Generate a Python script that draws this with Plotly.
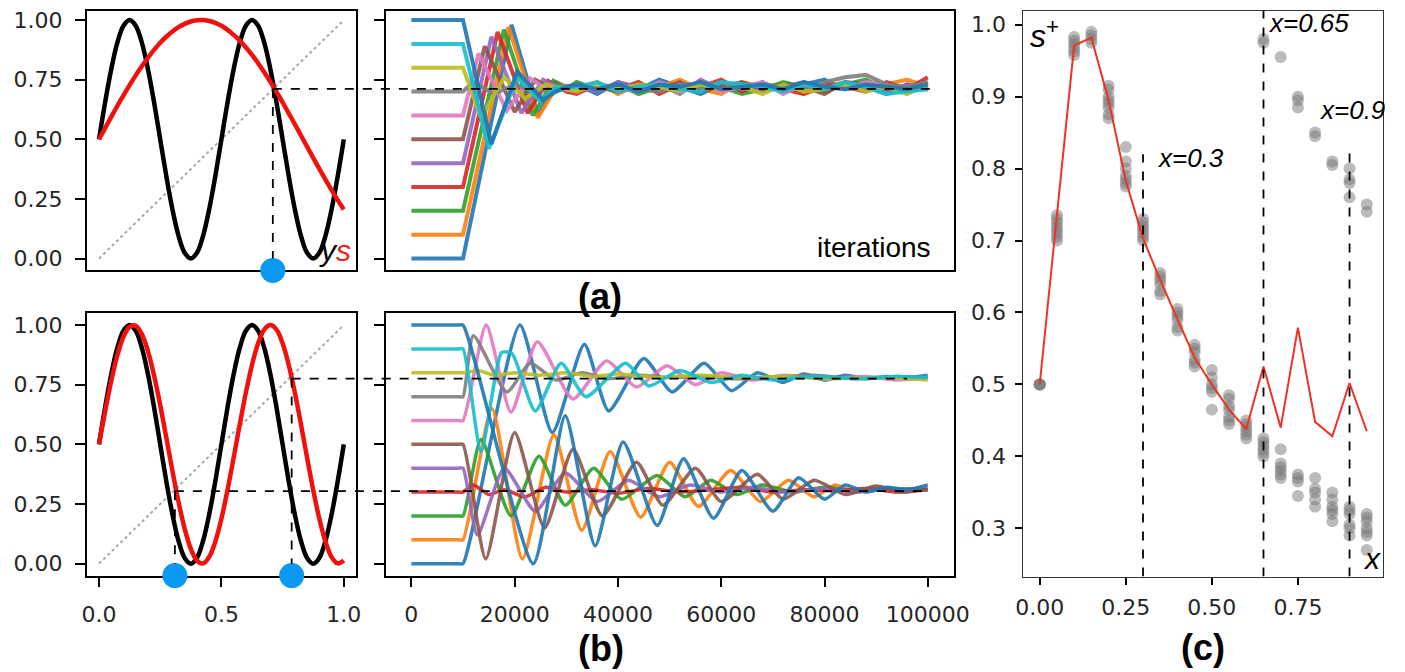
import plotly.graph_objects as go

# the page puts the figure 8px in from the top-left corner
OFF = 8
W, H = 1405 - OFF, 672 - OFF

# ---- (a)/(b) left: the maps y(x) and s(x) ----------------------------------
MAP_X = [0.0, 0.025, 0.05, 0.075, 0.1, 0.125, 0.15, 0.175, 0.2, 0.225, 0.25,
         0.275, 0.3, 0.325, 0.35, 0.375, 0.4, 0.425, 0.45, 0.475, 0.5,
         0.525, 0.55, 0.575, 0.6, 0.625, 0.65, 0.675, 0.7, 0.725, 0.75,
         0.775, 0.8, 0.825, 0.85, 0.875, 0.9, 0.925, 0.95, 0.975, 1.0]
Y_BLACK = [0.5, 0.655, 0.794, 0.905, 0.976, 1.0, 0.976, 0.905, 0.794, 0.655, 0.5,
           0.345, 0.206, 0.095, 0.024, 0.0, 0.024, 0.095, 0.206, 0.345, 0.5,
           0.655, 0.794, 0.905, 0.976, 1.0, 0.976, 0.905, 0.794, 0.655, 0.5,
           0.345, 0.206, 0.095, 0.024, 0.0, 0.024, 0.095, 0.206, 0.345, 0.5]
S_RED_A = [0.5, 0.547, 0.594, 0.64, 0.684, 0.727, 0.768, 0.806, 0.842, 0.875, 0.905,
           0.93, 0.952, 0.97, 0.984, 0.994, 0.999, 1.0, 0.996, 0.988, 0.976,
           0.959, 0.938, 0.914, 0.885, 0.854, 0.819, 0.781, 0.741, 0.699, 0.655,
           0.609, 0.563, 0.516, 0.469, 0.422, 0.376, 0.331, 0.287, 0.245, 0.206]
S_RED_B = [0.5, 0.638, 0.766, 0.873, 0.951, 0.993, 0.997, 0.962, 0.891, 0.789, 0.665,
           0.528, 0.389, 0.258, 0.146, 0.062, 0.013, 0.001, 0.028, 0.092, 0.188,
           0.309, 0.444, 0.584, 0.717, 0.833, 0.924, 0.981, 1.0, 0.981, 0.924,
           0.833, 0.717, 0.584, 0.444, 0.309, 0.188, 0.092, 0.028, 0.001, 0.013]
DIAG = [0.0, 1.0]

# fixed points (x, s) of panels (a) and (b)
FP_A = [(0.71, 0.711)]
FP_B = [(0.31, 0.304), (0.787, 0.776)]

# ---- (a)/(b) middle: trajectories vs iterations (thousands) ---------------
START = [0.0, 0.1, 0.2, 0.3, 0.4, 0.5, 0.6, 0.7, 0.8, 0.9, 1.0]

TOP_KX = [
    [0, 10, 19.4, 24.5, 28, 30],
    [0, 10, 18.8, 24.5, 28.5, 30],
    [0, 10, 17.9, 23.5, 27.5, 30],
    [0, 10, 16.7, 22.5, 26.5, 30],
    [0, 10, 15.5, 21.3, 25.5, 30],
    [0, 10, 14.2, 20, 24, 28, 30],
    [0, 10, 13, 18.5, 23, 27, 30],
    [0, 10, 12, 16, 20, 24, 30],
    [0, 10, 13.5, 18, 22, 26, 30],
    [0, 10, 15, 20.5, 25, 28, 30],
    [0, 10, 15.5, 20.5, 25.5, 28, 30],
]
TOP_KY = [
    [0.0, 0.0, 0.98, 0.60, 0.74, 0.72],
    [0.1, 0.1, 0.97, 0.59, 0.735, 0.72],
    [0.2, 0.2, 0.96, 0.60, 0.745, 0.71],
    [0.3, 0.3, 0.95, 0.61, 0.745, 0.70],
    [0.4, 0.4, 0.93, 0.61, 0.75, 0.705],
    [0.5, 0.5, 0.89, 0.615, 0.75, 0.70, 0.72],
    [0.6, 0.6, 0.86, 0.62, 0.755, 0.70, 0.725],
    [0.7, 0.7, 0.74, 0.69, 0.73, 0.70, 0.72],
    [0.8, 0.8, 0.59, 0.76, 0.67, 0.73, 0.71],
    [0.9, 0.9, 0.46, 0.76, 0.66, 0.72, 0.715],
    [1.0, 1.0, 0.48, 0.785, 0.665, 0.70, 0.72],
]
TOP_TAIL_KX = [32, 36, 40, 44, 48, 52, 56, 60, 64, 68, 72, 76, 80, 84, 88, 92, 96, 100]
TOP_TAIL_Y = [
    [0.73, 0.69, 0.74, 0.71, 0.75, 0.72, 0.69, 0.73, 0.71, 0.74, 0.70, 0.73, 0.75, 0.71, 0.72, 0.69, 0.73, 0.71],
    [0.71, 0.74, 0.69, 0.73, 0.72, 0.75, 0.71, 0.69, 0.74, 0.72, 0.73, 0.69, 0.72, 0.74, 0.71, 0.73, 0.75, 0.72],
    [0.74, 0.71, 0.73, 0.69, 0.72, 0.70, 0.74, 0.72, 0.69, 0.71, 0.74, 0.72, 0.70, 0.73, 0.75, 0.71, 0.70, 0.74],
    [0.69, 0.73, 0.71, 0.74, 0.69, 0.73, 0.72, 0.75, 0.70, 0.73, 0.71, 0.69, 0.73, 0.72, 0.70, 0.74, 0.71, 0.76],
    [0.72, 0.70, 0.74, 0.72, 0.73, 0.69, 0.75, 0.71, 0.73, 0.70, 0.72, 0.74, 0.71, 0.73, 0.72, 0.70, 0.73, 0.71],
    [0.73, 0.72, 0.70, 0.73, 0.71, 0.74, 0.70, 0.72, 0.74, 0.71, 0.73, 0.72, 0.69, 0.74, 0.73, 0.71, 0.72, 0.73],
    [0.71, 0.73, 0.72, 0.70, 0.74, 0.71, 0.73, 0.70, 0.72, 0.74, 0.69, 0.73, 0.72, 0.71, 0.74, 0.73, 0.70, 0.72],
    [0.73, 0.71, 0.73, 0.71, 0.70, 0.73, 0.72, 0.74, 0.71, 0.73, 0.72, 0.71, 0.74, 0.76, 0.77, 0.73, 0.72, 0.74],
    [0.70, 0.73, 0.71, 0.73, 0.72, 0.70, 0.73, 0.71, 0.72, 0.69, 0.73, 0.70, 0.71, 0.73, 0.70, 0.72, 0.69, 0.73],
    [0.72, 0.74, 0.70, 0.72, 0.73, 0.71, 0.70, 0.74, 0.73, 0.72, 0.70, 0.73, 0.71, 0.74, 0.72, 0.69, 0.70, 0.71],
    [0.73, 0.71, 0.73, 0.70, 0.73, 0.72, 0.74, 0.71, 0.72, 0.73, 0.71, 0.74, 0.72, 0.71, 0.73, 0.72, 0.71, 0.73],
]

BOT_KX = [
    [0, 9, 10, 21, 27.3, 33.5, 38.2, 45, 50.5, 56.7, 62, 67, 72, 76, 80, 84, 88, 92, 96, 100],
    [0, 9, 10, 15.6, 21.5, 27.6, 33, 38.5, 44.4, 50, 55.6, 61.8, 67.6, 73, 78, 82, 86, 90, 94, 98, 100],
    [0, 9, 10, 13.5, 19.3, 24.7, 29.8, 35.3, 40.7, 47.6, 53, 58, 63, 68, 74, 80, 86, 92, 100],
    [0, 9, 10, 12, 15, 18, 22, 26, 30, 35, 40, 46, 52, 58, 64, 70, 76, 82, 88, 94, 100],
    [0, 9, 10, 12.8, 18, 24, 29.8, 36, 42, 48, 54, 60, 66, 72, 80, 86, 92, 100],
    [0, 9, 10, 14.4, 20, 25.8, 31.3, 37, 43.6, 48.7, 55, 60, 67, 72, 78, 84, 90, 95, 100],
    [0, 9, 10, 14.5, 19.3, 24.4, 31.3, 37.8, 43.6, 49.5, 55, 60, 66, 72, 80, 88, 94, 100],
    [0, 9, 10, 12, 18.5, 23, 28, 33, 38, 44, 50, 56, 62, 70, 78, 86, 94, 100],
    [0, 9, 10, 13, 16, 20, 25, 30, 35, 40, 48, 56, 64, 72, 80, 90, 100],
    [0, 9, 10, 13.5, 17.5, 19.5, 24, 29, 33.8, 41.5, 46, 52, 58, 64, 70, 78, 86, 94, 100],
    [0, 9, 10, 23.6, 29.8, 35.6, 41, 47.6, 52.7, 58.5, 64, 70, 75, 80, 84, 88, 92, 96, 100],
]
BOT_KY = [
    [0.0, 0.0, 0.0, 1.0, 0.55, 0.92, 0.64, 0.86, 0.72, 0.84, 0.725, 0.80, 0.76, 0.795, 0.77, 0.79, 0.775, 0.785, 0.78, 0.79],
    [0.1, 0.1, 0.1, 0.65, 0.02, 0.54, 0.14, 0.47, 0.195, 0.425, 0.24, 0.39, 0.26, 0.35, 0.28, 0.33, 0.30, 0.32, 0.305, 0.315, 0.31],
    [0.2, 0.2, 0.2, 0.52, 0.20, 0.45, 0.245, 0.40, 0.27, 0.37, 0.28, 0.35, 0.29, 0.33, 0.30, 0.32, 0.305, 0.315, 0.31],
    [0.3, 0.3, 0.3, 0.33, 0.29, 0.31, 0.28, 0.32, 0.30, 0.31, 0.295, 0.315, 0.30, 0.31, 0.32, 0.30, 0.31, 0.305, 0.315, 0.30, 0.31],
    [0.4, 0.4, 0.4, 0.12, 0.40, 0.22, 0.38, 0.26, 0.35, 0.28, 0.33, 0.30, 0.32, 0.30, 0.315, 0.30, 0.315, 0.31],
    [0.5, 0.5, 0.5, 0.02, 0.55, 0.15, 0.48, 0.20, 0.425, 0.245, 0.40, 0.26, 0.375, 0.27, 0.35, 0.29, 0.325, 0.30, 0.315],
    [0.6, 0.6, 0.6, 1.0, 0.635, 0.93, 0.69, 0.85, 0.74, 0.83, 0.75, 0.80, 0.77, 0.79, 0.775, 0.785, 0.77, 0.78],
    [0.7, 0.7, 0.7, 0.955, 0.72, 0.84, 0.77, 0.80, 0.775, 0.79, 0.78, 0.785, 0.775, 0.78, 0.79, 0.775, 0.785, 0.78],
    [0.8, 0.8, 0.8, 0.81, 0.79, 0.80, 0.79, 0.80, 0.785, 0.795, 0.78, 0.79, 0.78, 0.785, 0.775, 0.78, 0.77],
    [0.9, 0.9, 0.9, 0.47, 0.885, 0.88, 0.64, 0.84, 0.70, 0.84, 0.745, 0.81, 0.76, 0.79, 0.77, 0.785, 0.775, 0.785, 0.78],
    [1.0, 1.0, 1.0, 0.0, 0.62, 0.075, 0.51, 0.16, 0.44, 0.19, 0.39, 0.22, 0.36, 0.27, 0.33, 0.30, 0.32, 0.31, 0.33],
]
ITER_TICKS = [0, 20000, 40000, 60000, 80000, 100000]

# ---- (c): s+ versus x -----------------------------------------------------
C_X = [0.0, 0.05, 0.1, 0.15, 0.2, 0.25, 0.3, 0.35, 0.4, 0.45,
       0.5, 0.55, 0.6, 0.65, 0.7, 0.75, 0.8, 0.85, 0.9, 0.95]
C_LINE = [0.50, 0.735, 0.971, 0.982, 0.895, 0.783, 0.703, 0.645, 0.59, 0.537,
          0.50, 0.465, 0.438, 0.525, 0.44, 0.579, 0.448, 0.428, 0.502, 0.435]
C_SAMPLES = [
    [0.50, 0.50, 0.50, 0.50],
    [0.70, 0.705, 0.71, 0.715, 0.72, 0.725, 0.73, 0.735],
    [0.958, 0.963, 0.968, 0.973, 0.978, 0.983],
    [0.975, 0.98, 0.985, 0.99],
    [0.87, 0.875, 0.885, 0.89, 0.895, 0.90, 0.91, 0.915],
    [0.775, 0.78, 0.785, 0.79, 0.80, 0.81, 0.83],
    [0.70, 0.705, 0.71, 0.715, 0.72, 0.725, 0.73],
    [0.625, 0.63, 0.64, 0.645, 0.65, 0.655],
    [0.575, 0.58, 0.59, 0.595, 0.60, 0.605],
    [0.525, 0.53, 0.535, 0.545, 0.55, 0.555],
    [0.465, 0.49, 0.495, 0.50, 0.51, 0.52],
    [0.445, 0.45, 0.455, 0.465, 0.47, 0.48, 0.485],
    [0.425, 0.43, 0.435, 0.44, 0.445, 0.45],
    [0.975, 0.98, 0.40, 0.405, 0.41, 0.415, 0.42, 0.425],
    [0.955, 0.37, 0.375, 0.38, 0.385, 0.39, 0.41],
    [0.885, 0.895, 0.90, 0.345, 0.365, 0.37, 0.375],
    [0.845, 0.85, 0.33, 0.34, 0.35, 0.355, 0.37],
    [0.805, 0.81, 0.31, 0.32, 0.325, 0.33, 0.34, 0.35],
    [0.76, 0.78, 0.785, 0.80, 0.29, 0.30, 0.305, 0.32, 0.325, 0.33],
    [0.74, 0.75, 0.27, 0.29, 0.295, 0.30, 0.31, 0.315, 0.32],
]
# marked x values and how high their guide reaches
C_MARK_X = [0.3, 0.65, 0.9]
C_MARK_TOP = [0.82, 1.03, 0.832]

# ---- styling --------------------------------------------------------------
TAB10 = ["#1f77b4", "#ff7f0e", "#2ca02c", "#d62728", "#9467bd", "#8c564b",
         "#e377c2", "#7f7f7f", "#bcbd22", "#17becf", "#1f77b4"]
RED = "#f2100c"
DOT_BLUE = "#0b98f0"

TOP_RANGE = [-0.05, 1.038]
BOT_RANGE = [-0.05, 1.05]
ITER_RANGE = [-5000, 105000]
C_XRANGE = [-0.0475, 0.9975]
C_YRANGE = [0.233, 1.019]


# panel boxes given in pixels of the 1405x672 window
def dom_x(l, r):
    return [(l - OFF) / W, (r - OFF) / W]


def dom_y(t, b):
    return [1 - (b - OFF) / H, 1 - (t - OFF) / H]


def px(x, y):
    return (x - OFF) / W, 1 - (y - OFF) / H


D_LEFT = dom_x(80, 354)
D_MID = dom_x(384, 962)
D_RIGHT = dom_x(1033, 1399)
D_TOP = dom_y(8, 269)
D_BOT = dom_y(312, 576)
D_C = dom_y(8, 577)

TICKFONT = dict(family="DejaVu Sans", size=22, color="#262626")


def axis(**kw):
    base = dict(showline=True, linecolor="black", linewidth=1.6, mirror=True,
                ticks="outside", ticklen=10, tickwidth=1.6, tickcolor="black",
                showgrid=False, zeroline=False, tickfont=TICKFONT,
                ticklabelstandoff=8, ticklabeloverflow="allow",
                layer="below traces")
    base.update(kw)
    return base


def to_paper(v, dom, rng):
    return dom[0] + (v - rng[0]) / (rng[1] - rng[0]) * (dom[1] - dom[0])


fig = go.Figure()

# left map panels
for xa, ya, s_curve in [("x", "y", S_RED_A), ("x2", "y2", S_RED_B)]:
    fig.add_trace(go.Scatter(x=DIAG, y=DIAG, mode="lines", xaxis=xa, yaxis=ya,
                             line=dict(color="#a8a8a8", width=2, dash="dot")))
    fig.add_trace(go.Scatter(x=MAP_X, y=Y_BLACK, mode="lines", xaxis=xa, yaxis=ya,
                             line=dict(color="black", width=4.5, shape="spline")))
    fig.add_trace(go.Scatter(x=MAP_X, y=s_curve, mode="lines", xaxis=xa, yaxis=ya,
                             line=dict(color=RED, width=4.5, shape="spline")))

# trajectories
for i in range(len(START)):
    xs = [k * 1000 for k in TOP_KX[i] + TOP_TAIL_KX]
    ys = TOP_KY[i] + TOP_TAIL_Y[i]
    fig.add_trace(go.Scatter(x=xs, y=ys, mode="lines", xaxis="x3", yaxis="y3",
                             line=dict(color=TAB10[i], width=4), opacity=0.9))
for i in range(len(START)):
    xs = [k * 1000 for k in BOT_KX[i]]
    fig.add_trace(go.Scatter(x=xs, y=BOT_KY[i], mode="lines", xaxis="x4", yaxis="y4",
                             line=dict(color=TAB10[i], width=3.5, shape="spline",
                                       smoothing=0.6), opacity=0.9))

# (c) scatter + red line
pts_x, pts_y = [], []
for xv, group in zip(C_X, C_SAMPLES):
    for yv in group:
        pts_x.append(xv)
        pts_y.append(yv)
fig.add_trace(go.Scatter(x=pts_x, y=pts_y, mode="markers", xaxis="x5", yaxis="y5",
                         marker=dict(color="rgba(120,120,120,0.5)", size=12,
                                     line=dict(width=0))))
fig.add_trace(go.Scatter(x=C_X, y=C_LINE, mode="lines", xaxis="x5", yaxis="y5",
                         line=dict(color="#ee3322", width=2)))

# guide lines from fixed points into the trajectory panels
shapes = []
dash = dict(color="black", width=1.8, dash="dash")
for (fx, fy), xa, ya, end in [(FP_A[0], "x", "y", 101000),
                              (FP_B[0], "x2", "y2", 100000),
                              (FP_B[1], "x2", "y2", 96000)]:
    shapes.append(dict(type="line", xref=xa, yref=ya, x0=fx, x1=fx,
                       y0=fy, y1=0.0, line=dash))
    shapes.append(dict(type="line", xref="paper", yref=ya,
                       x0=to_paper(fx, D_LEFT, BOT_RANGE),
                       x1=to_paper(end, D_MID, ITER_RANGE),
                       y0=fy, y1=fy, line=dash))
for mx, top in zip(C_MARK_X, C_MARK_TOP):
    shapes.append(dict(type="line", xref="x5", yref="y5", x0=mx, x1=mx,
                       y0=C_YRANGE[0], y1=min(top, C_YRANGE[1]), line=dash))

# blue dots on the x axis at the fixed points
fig.add_trace(go.Scatter(x=[p[0] for p in FP_A], y=[TOP_RANGE[0]] * len(FP_A),
                         mode="markers", xaxis="x", yaxis="y", cliponaxis=False,
                         marker=dict(color=DOT_BLUE, size=25)))
fig.add_trace(go.Scatter(x=[p[0] for p in FP_B], y=[BOT_RANGE[0]] * len(FP_B),
                         mode="markers", xaxis="x2", yaxis="y2", cliponaxis=False,
                         marker=dict(color=DOT_BLUE, size=25)))

unit_ticks = [0, 0.25, 0.5, 0.75, 1.0]


def note(text, x, y, xa, ya, size, family="Liberation Sans", ref="paper"):
    d = dict(text=text, x=x, y=y, xanchor=xa, yanchor=ya, showarrow=False,
             font=dict(family=family, size=size, color="black"))
    if ref == "paper":
        d.update(xref="paper", yref="paper")
    else:
        d.update(xref="x5", yref="y5")
    return d


annotations = [
    note("<i>y<span style='color:#e8231a'>s</span></i>", *px(351, 268), "right", "bottom", 30),
    note("iterations", *px(941, 264), "right", "bottom", 28),
    note("<b>(a)</b>", *px(602, 295), "center", "middle", 36),
    note("<b>(b)</b>", *px(603, 649), "center", "middle", 36),
    note("<b>(c)</b>", *px(1216, 648), "center", "middle", 36),
    note("<i>s</i><sup>+</sup>", -0.035, 1.017, "left", "top", 32, ref="c"),
    note("<i>x</i>", 0.996, C_YRANGE[0], "right", "bottom", 30, ref="c"),
]
for label, lx, ly in [("x=0.3", 0.334, 0.815), ("x=0.65", 0.657, 1.003), ("x=0.9", 0.805, 0.881)]:
    annotations.append(note("<i>" + label + "</i>", lx, ly, "left", "middle", 26, ref="c"))

fig.update_layout(
    width=W, height=H, autosize=False,
    margin=dict(l=0, r=0, t=0, b=0),
    paper_bgcolor="white", plot_bgcolor="white",
    showlegend=False,
    shapes=shapes,
    annotations=annotations,
    xaxis=axis(domain=D_LEFT, range=BOT_RANGE, anchor="y", ticks="", showticklabels=False),
    yaxis=axis(domain=D_TOP, range=TOP_RANGE, anchor="x", tickvals=unit_ticks, tickformat=".2f"),
    xaxis2=axis(domain=D_LEFT, range=BOT_RANGE, anchor="y2", tickvals=[0, 0.5, 1.0], tickformat=".1f"),
    yaxis2=axis(domain=D_BOT, range=BOT_RANGE, anchor="x2", tickvals=unit_ticks, tickformat=".2f"),
    xaxis3=axis(domain=D_MID, range=ITER_RANGE, anchor="y3", ticks="", showticklabels=False),
    yaxis3=axis(domain=D_TOP, range=TOP_RANGE, anchor="x3", tickvals=unit_ticks, showticklabels=False),
    xaxis4=axis(domain=D_MID, range=ITER_RANGE, anchor="y4", tickvals=ITER_TICKS, tickformat="d"),
    yaxis4=axis(domain=D_BOT, range=BOT_RANGE, anchor="x4", tickvals=unit_ticks, showticklabels=False),
    xaxis5=axis(domain=D_RIGHT, range=C_XRANGE, anchor="y5", tickvals=[0, 0.25, 0.5, 0.75],
                tickformat=".2f", linecolor="#333333", linewidth=1.2, ticklen=7,
                ticklabelstandoff=4),
    yaxis5=axis(domain=D_C, range=C_YRANGE, anchor="x5",
                tickvals=[0.3, 0.4, 0.5, 0.6, 0.7, 0.8, 0.9, 1.0], tickformat=".1f",
                linecolor="#333333", linewidth=1.2, ticklen=7, ticklabelstandoff=5),
)

fig.write_html("out.html")
